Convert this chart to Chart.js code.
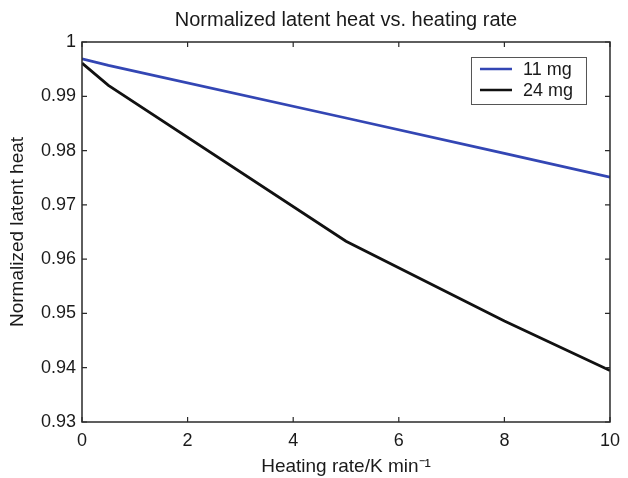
<!DOCTYPE html>
<html>
<head>
<meta charset="utf-8">
<script src="https://cdn.jsdelivr.net/npm/chart.js@4"></script>
<style>
  html, body { margin: 0; padding: 0; background: #fff; }
  #wrap { width: 628px; height: 478px; }
</style>
</head>
<body>
<div id="wrap"><canvas id="chart" width="628" height="478"></canvas></div>
<script>
// heating rate (K/min) and normalized latent heat for each sample mass
const rates11 = [0, 0.5, 5, 8, 10];
const heat11 = [0.9969, 0.9957, 0.9860, 0.9795, 0.9751];
const rates24 = [0, 0.5, 5, 8, 10];
const heat24 = [0.9961, 0.9920, 0.9633, 0.9486, 0.9395];

const seriesNames = ["11 mg", "24 mg"];
const xTicks = [0, 2, 4, 6, 8, 10];
const yTicks = [0.93, 0.94, 0.95, 0.96, 0.97, 0.98, 0.99, 1];
const yTickLabels = ["0.93", "0.94", "0.95", "0.96", "0.97", "0.98", "0.99", "1"];
const chartTitle = "Normalized latent heat vs. heating rate";

const FONT = "'Liberation Sans', Arial, Helvetica, sans-serif";
const colors = ["#3346b4", "#111111"];

function pts(xs, ys) {
  return xs.map((x, i) => ({ x: x, y: ys[i] }));
}

// MATLAB style box with inward ticks, title over the plot, legend top right
const frame = {
  id: "frame",
  afterDatasetsDraw(chart) {
    const ctx = chart.ctx;
    const a = chart.chartArea;
    const sx = chart.scales.x, sy = chart.scales.y;
    ctx.save();
    ctx.strokeStyle = "#2a2a2a";
    ctx.lineWidth = 1.5;
    ctx.strokeRect(a.left, a.top, a.right - a.left, a.bottom - a.top);
    ctx.lineWidth = 1.2;
    ctx.beginPath();
    xTicks.forEach(v => {
      const px = sx.getPixelForValue(v);
      ctx.moveTo(px, a.bottom); ctx.lineTo(px, a.bottom - 5);
      ctx.moveTo(px, a.top); ctx.lineTo(px, a.top + 5);
    });
    yTicks.forEach(v => {
      const py = sy.getPixelForValue(v);
      ctx.moveTo(a.left, py); ctx.lineTo(a.left + 5, py);
      ctx.moveTo(a.right, py); ctx.lineTo(a.right - 5, py);
    });
    ctx.stroke();

    // title
    ctx.fillStyle = "#1a1a1a";
    ctx.font = "20px " + FONT;
    ctx.textAlign = "center";
    ctx.textBaseline = "middle";
    ctx.fillText(chartTitle, (a.left + a.right) / 2, a.top - 22);

    // legend
    const bx = a.right - 139, by = a.top + 15, bw = 115, bh = 47;
    ctx.fillStyle = "#fff";
    ctx.fillRect(bx, by, bw, bh);
    ctx.strokeStyle = "#555";
    ctx.lineWidth = 1;
    ctx.strokeRect(bx + 0.5, by + 0.5, bw, bh);
    ctx.font = "18px " + FONT;
    ctx.textAlign = "left";
    chart.data.datasets.forEach((ds, i) => {
      const y = by + 12 + i * 21;
      ctx.strokeStyle = ds.borderColor;
      ctx.lineWidth = 2.5;
      ctx.beginPath();
      ctx.moveTo(bx + 9, y); ctx.lineTo(bx + 41, y);
      ctx.stroke();
      ctx.fillStyle = "#1a1a1a";
      ctx.fillText(ds.label, bx + 52, y + 1);
    });
    ctx.restore();
  }
};

new Chart(document.getElementById("chart"), {
  type: "scatter",
  data: {
    datasets: [
      { label: seriesNames[0], data: pts(rates11, heat11) },
      { label: seriesNames[1], data: pts(rates24, heat24) }
    ].map((d, i) => Object.assign(d, {
      showLine: true,
      borderColor: colors[i],
      backgroundColor: colors[i],
      borderWidth: 2.8,
      pointRadius: 0,
      tension: 0
    }))
  },
  options: {
    responsive: false,
    animation: false,
    layout: { padding: { left: 0, right: 10, top: 42, bottom: 0 } },
    plugins: {
      legend: { display: false },
      tooltip: { enabled: false },
      title: { display: false }
    },
    scales: {
      x: {
        type: "linear",
        min: 0, max: 10,
        afterBuildTicks: s => { s.ticks = xTicks.map(v => ({ value: v })); },
        afterFit: s => { s.height = 56; },
        grid: { display: false, drawTicks: false },
        border: { display: false },
        ticks: { color: "#1a1a1a", font: { family: FONT, size: 18 }, padding: 8, maxRotation: 0 },
        title: {
          display: true,
          text: "Heating rate/K min\u207B\u00B9",
          color: "#1a1a1a",
          font: { family: FONT, size: 19 },
          padding: { top: 0, bottom: 0 }
        }
      },
      y: {
        type: "linear",
        min: 0.93, max: 1,
        afterBuildTicks: s => { s.ticks = yTicks.map(v => ({ value: v })); },
        afterFit: s => { s.width = 82; },
        grid: { display: false, drawTicks: false },
        border: { display: false },
        ticks: {
          color: "#1a1a1a",
          font: { family: FONT, size: 18 },
          padding: 6,
          callback: (v) => yTickLabels[yTicks.indexOf(v)] ?? ""
        },
        title: {
          display: true,
          text: "Normalized latent heat",
          color: "#1a1a1a",
          font: { family: FONT, size: 19 },
          padding: { top: 6, bottom: 0 }
        }
      }
    }
  },
  plugins: [frame]
});
</script>
</body>
</html>
